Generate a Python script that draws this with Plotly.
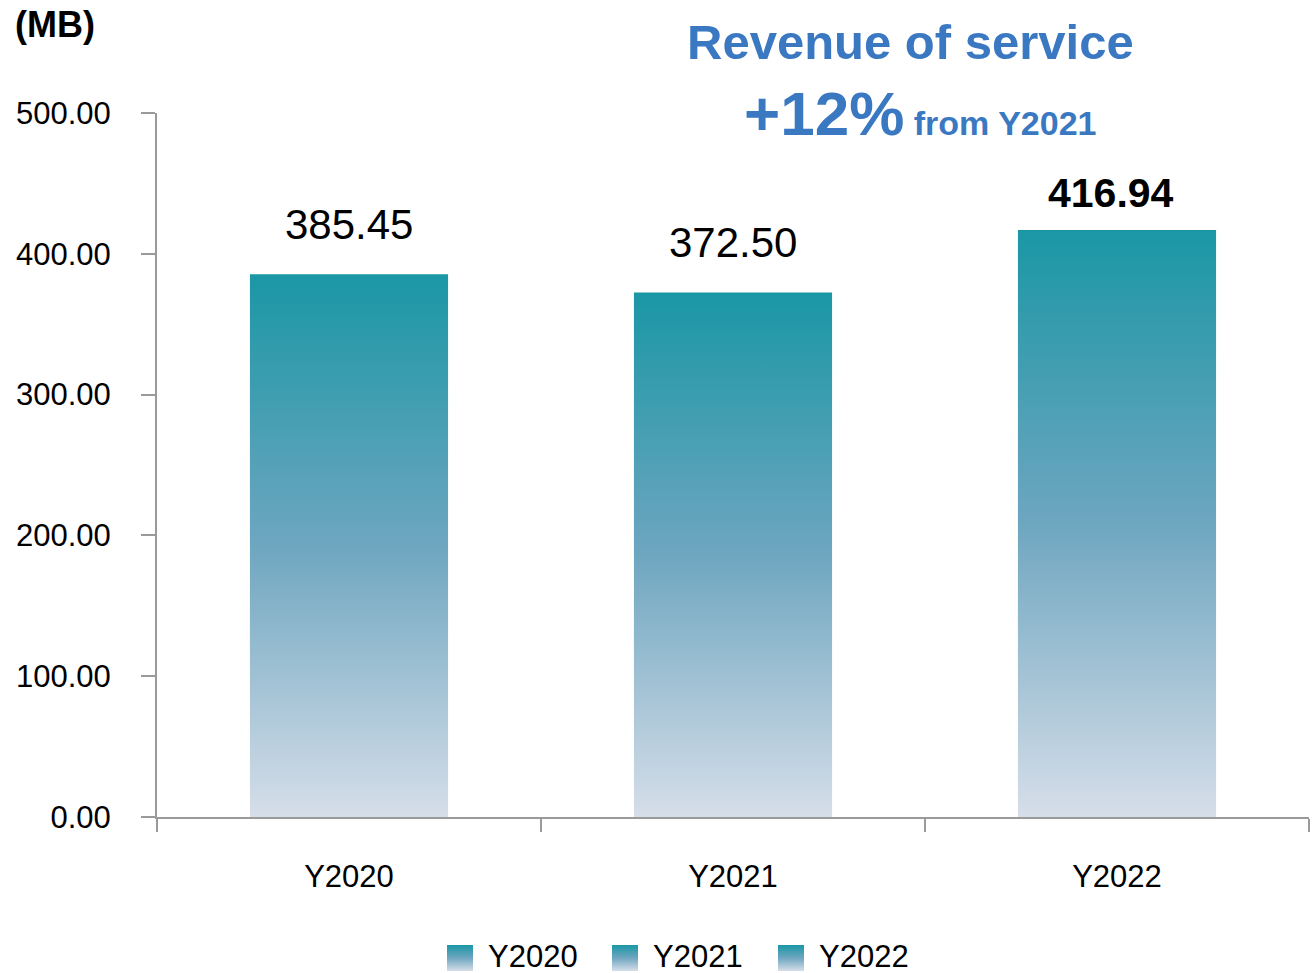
import plotly.graph_objects as go

categories = ["Y2020", "Y2021", "Y2022"]
values = [385.45, 372.50, 416.94]
value_labels = ["385.45", "372.50", "416.94"]
y_ticks = [0, 100, 200, 300, 400, 500]
y_tick_labels = ["0.00", "100.00", "200.00", "300.00", "400.00", "500.00"]

W, H = 1312, 973
FONT = "Liberation Sans, Arial, sans-serif"
GRAD = [[0.0, "#d6dee9"], [0.5, "#6ea6c0"], [1.0, "#1a97a5"]]
AXIS_COLOR = "#9a9a9a"
TITLE_COLOR = "#3a78c2"
HALF_W = 0.258

# plot area in window pixels
PL, PR, PT, PB = 157, 1309, 113, 817


def px(x):
    return x / W


def py(y):
    return 1 - y / H


fig = go.Figure()
for i, (cat, v) in enumerate(zip(categories, values)):
    fig.add_trace(go.Scatter(
        x=[i - HALF_W, i - HALF_W, i + HALF_W, i + HALF_W, i - HALF_W],
        y=[0, v, v, 0, 0],
        mode="lines", fill="toself",
        fillgradient=dict(type="vertical", colorscale=GRAD),
        line=dict(width=0, color="#1a97a5"),
        name=cat, hoverinfo="skip", showlegend=False,
    ))

# dummy invisible trace so xaxis2 (category labels) is drawn
fig.add_trace(go.Scatter(x=[0], y=[0], xaxis="x2", yaxis="y", mode="markers",
                         marker=dict(opacity=0), showlegend=False, hoverinfo="skip"))

# value labels
shifts = [50, 50, 37]
xshifts = [0, 0, -6]
for i, (v, lab) in enumerate(zip(values, value_labels)):
    bold = i == len(values) - 1
    fig.add_annotation(
        x=i, y=v, xref="x", yref="y",
        text=f"<b>{lab}</b>" if bold else lab,
        showarrow=False, yanchor="middle", yshift=shifts[i], xshift=xshifts[i],
        font=dict(family=FONT, size=41 if bold else 42, color="#000000"),
    )

# legend (drawn on a pixel-scaled helper axis so swatches can carry the gradient)
legend_swatch_x = [447, 612, 778]
SW_TOP, SW_BOT, SW = 945, 971, 26
for cat, lx in zip(categories, legend_swatch_x):
    fig.add_trace(go.Scatter(
        x=[lx, lx, lx + SW, lx + SW, lx],
        y=[H - SW_BOT, H - SW_TOP, H - SW_TOP, H - SW_BOT, H - SW_BOT],
        xaxis="x3", yaxis="y3", mode="lines", fill="toself",
        fillgradient=dict(type="vertical", colorscale=GRAD),
        line=dict(width=0, color="#1a97a5"), showlegend=False, hoverinfo="skip",
    ))
    fig.add_annotation(
        x=lx + SW + 13, y=H - 956, xref="x3", yref="y3", text=cat,
        showarrow=False, xanchor="left", yanchor="middle",
        font=dict(family=FONT, size=31, color="#000000"),
    )

# unit label
fig.add_annotation(
    x=px(13), y=py(25), xref="paper", yref="paper", text="<b>(MB)</b>",
    showarrow=False, xanchor="left", yanchor="middle",
    font=dict(family=FONT, size=36, color="#000000"),
)

# title annotations
fig.add_annotation(
    x=px(910), y=py(42), xref="paper", yref="paper", text="<b>Revenue of service</b>",
    showarrow=False, xanchor="center", yanchor="middle",
    font=dict(family=FONT, size=49, color=TITLE_COLOR),
)
fig.add_annotation(
    x=px(920), y=py(113), xref="paper", yref="paper",
    text="<b><span style='font-size:62px'>+12%</span> <span style='font-size:34px'>from Y2021</span></b>",
    showarrow=False, xanchor="center", yanchor="middle",
    font=dict(family=FONT, size=34, color=TITLE_COLOR),
)

fig.update_layout(
    width=W, height=H,
    margin=dict(l=0, r=0, t=0, b=0),
    paper_bgcolor="white", plot_bgcolor="rgba(0,0,0,0)",
    font=dict(family=FONT, color="#000000"),
    showlegend=False,
    xaxis=dict(domain=[px(PL), px(PR)], range=[-0.5, 2.5],
               tickvals=[-0.5, 0.5, 1.5, 2.5], showticklabels=False,
               ticks="outside", ticklen=13, tickwidth=2, tickcolor=AXIS_COLOR,
               showline=True, linecolor=AXIS_COLOR, linewidth=2, showgrid=False,
               zeroline=False, fixedrange=True, automargin=False),
    xaxis2=dict(overlaying="x", matches="x", anchor="y", side="bottom",
                domain=[px(PL), px(PR)],
                tickvals=[0, 1, 2], ticktext=categories, ticks="", showline=False,
                showgrid=False, zeroline=False, ticklabelstandoff=38, automargin=False,
                tickfont=dict(family=FONT, size=31, color="#000000")),
    yaxis=dict(domain=[py(PB), py(PT)], range=[0, 500], tickvals=y_ticks,
               ticktext=y_tick_labels,
               ticks="outside", ticklen=14, tickwidth=2, tickcolor=AXIS_COLOR,
               showline=True, linecolor=AXIS_COLOR, linewidth=2, showgrid=False,
               zeroline=False, ticklabelstandoff=24, automargin=False,
               tickfont=dict(family=FONT, size=31, color="#000000")),
    xaxis3=dict(domain=[0, 1], range=[0, W], anchor="y3", visible=False, fixedrange=True),
    yaxis3=dict(domain=[0, 1], range=[0, H], anchor="x3", visible=False, fixedrange=True),
)

fig.write_html(
    "out.html",
    config={"displayModeBar": False},
    post_script="document.body.style.margin='0';document.body.style.overflow='hidden';",
)
